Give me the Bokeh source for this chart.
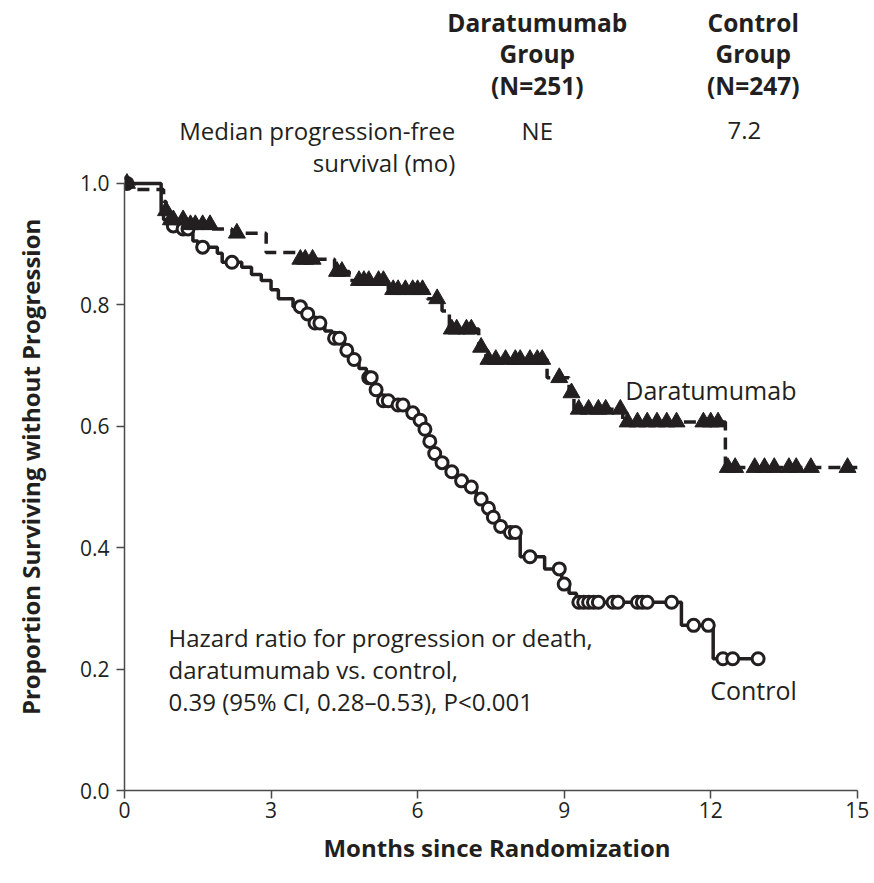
import numpy as np
from bokeh.plotting import figure
from bokeh.layouts import row
from bokeh.models import Range1d, FixedTicker, PrintfTickFormatter
from bokeh.core.properties import value
from bokeh.embed import file_html
from bokeh.resources import INLINE

# ---------------- data ----------------
# Control group (Kaplan-Meier steps: event time in months, survival after event)
ctrl_times = [0, 0.75, 0.8, 0.9, 1.1, 1.4, 1.5, 1.9, 2.0, 2.4, 2.6, 2.8, 3.0, 3.15, 3.45,
              3.7, 3.8, 4.1, 4.25, 4.5, 4.65, 4.8, 4.95, 5.1, 5.25, 5.5, 5.8, 6.0, 6.1,
              6.2, 6.3, 6.45, 6.6, 6.8, 7.0, 7.2, 7.35, 7.5, 7.65, 7.8, 8.1, 8.6, 8.95,
              9.1, 9.25, 11.4, 12.05]
ctrl_surv = [1.0, 0.955, 0.94, 0.93, 0.925, 0.905, 0.895, 0.885, 0.87, 0.862, 0.85, 0.84,
             0.825, 0.81, 0.797, 0.785, 0.77, 0.757, 0.745, 0.725, 0.71, 0.695, 0.68, 0.66,
             0.642, 0.635, 0.622, 0.61, 0.595, 0.575, 0.555, 0.54, 0.525, 0.51, 0.5, 0.48,
             0.465, 0.45, 0.435, 0.425, 0.385, 0.365, 0.34, 0.325, 0.31, 0.272, 0.217]
ctrl_end = 12.97
ctrl_censor = [0.05, 1.0, 1.2, 1.3, 1.6, 2.2, 3.6, 3.75, 3.9, 4.0, 4.3, 4.4, 4.55, 4.7,
               5.0, 5.05, 5.15, 5.3, 5.4, 5.6, 5.7, 5.9, 6.05, 6.15, 6.25, 6.35, 6.5, 6.7,
               6.9, 7.1, 7.3, 7.45, 7.55, 7.7, 7.9, 8.0, 8.3, 8.9, 9.0, 9.3, 9.4, 9.5, 9.6,
               9.7, 10.0, 10.1, 10.5, 10.6, 10.7, 11.2, 11.65, 11.95, 12.25, 12.45, 12.97]

# Daratumumab group
dara_times = [0, 0.2, 0.8, 0.85, 0.9, 1.3, 1.8, 2.2, 2.9, 3.5, 4.3, 4.6, 5.4, 6.2, 6.5,
              6.65, 7.25, 7.4, 8.65, 9.1, 9.2, 10.2, 12.3]
dara_surv = [1.0, 0.99, 0.97, 0.955, 0.94, 0.932, 0.925, 0.918, 0.886, 0.875, 0.855, 0.84,
             0.825, 0.81, 0.79, 0.76, 0.73, 0.71, 0.68, 0.655, 0.628, 0.607, 0.532]
dara_end = 15.0
dara_censor = [0.05, 0.85, 0.95, 1.0, 1.2, 1.35, 1.45, 1.6, 1.75, 2.3, 3.6, 3.7, 3.85, 4.35,
               4.45, 4.8, 4.9, 5.0, 5.2, 5.3, 5.5, 5.6, 5.75, 5.9, 6.0, 6.1, 6.4, 6.7, 6.8,
               7.0, 7.1, 7.3, 7.45, 7.6, 7.8, 8.0, 8.1, 8.3, 8.45, 8.55, 8.9, 9.15, 9.3,
               9.5, 9.7, 9.85, 10.15, 10.3, 10.5, 10.7, 10.9, 11.1, 11.3, 11.85, 12.0,
               12.15, 12.35, 12.5, 12.9, 13.1, 13.3, 13.6, 13.75, 14.05, 14.8]

x_ticks = [0, 3, 6, 9, 12, 15]
y_ticks = [0.0, 0.2, 0.4, 0.6, 0.8, 1.0]

header_groups = ["Daratumumab", "Control"]
header_n = ["(N=251)", "(N=247)"]
median_pfs = ["NE", "7.2"]
median_label = ["Median progression-free", "survival (mo)"]
hr_text = ["Hazard ratio for progression or death,",
           "daratumumab vs. control,",
           "0.39 (95% CI, 0.28\u20130.53), P<0.001"]
x_title = "Months since Randomization"
y_title = "Proportion Surviving without Progression"

FONT = "Open Sans"
INK = "#231f20"
AXC = "#4a4a4a"
H = 883
TITLE_W = 60
MAIN_W = 874 - TITLE_W


def surv_at(times, surv, t):
    idx = np.searchsorted(np.asarray(times), np.asarray(t), side="right") - 1
    return np.asarray(surv)[idx]


def txt(fig, x, y, s, align="center", bold=False, size="24px", angle=0.0):
    fig.text(x=[x], y=[y], text=[s], text_font=value(FONT), text_font_size=size,
             text_font_style="bold" if bold else "normal", text_color=INK,
             text_align=align, text_baseline="middle", angle=angle)


# ---------------- narrow strip holding the y-axis title ----------------
t = figure(width=TITLE_W, height=H, output_backend="svg", toolbar_location=None,
           x_range=Range1d(0, TITLE_W), y_range=Range1d(0, H),
           min_border_left=0, min_border_right=0, min_border_top=0, min_border_bottom=0)
t.axis.visible = False
t.grid.visible = False
t.outline_line_color = None
t.border_fill_color = "white"
# anchor (y measured upward) chosen so the rotated title is centred near 472 px from the top
txt(t, 30, H - 519, y_title, bold=True, size="24px", angle=np.pi / 2)

# ---------------- main plot (header table lives above y = 1.0) ----------------
p = figure(width=MAIN_W, height=H, output_backend="svg", toolbar_location=None,
           x_range=Range1d(0, 15.25), y_range=Range1d(0, 1.293),
           min_border_left=124 - TITLE_W, min_border_right=5, min_border_top=5,
           min_border_bottom=93)
p.outline_line_color = None
p.grid.visible = False
p.background_fill_color = "white"
p.border_fill_color = "white"

cx = list(ctrl_times) + [ctrl_end]
cy = list(ctrl_surv) + [ctrl_surv[-1]]
p.step(cx, cy, mode="after", line_color=INK, line_width=3.5)

dx = list(dara_times) + [dara_end]
dy = list(dara_surv) + [dara_surv[-1]]
p.step(dx, dy, mode="after", line_color=INK, line_width=3.5, line_dash="12 7")

p.scatter(ctrl_censor, surv_at(ctrl_times, ctrl_surv, ctrl_censor), marker="circle",
          size=12, line_color=INK, line_width=3, fill_color="white")
p.scatter(dara_censor, surv_at(dara_times, dara_surv, dara_censor), marker="triangle",
          size=17, line_color=INK, line_width=1, fill_color=INK)

for ax in (p.xaxis, p.yaxis):
    ax.axis_line_color = AXC
    ax.axis_line_width = 1.5
    ax.major_tick_line_color = AXC
    ax.major_tick_line_width = 1.5
    ax.major_tick_in = 0
    ax.major_tick_out = 8
    ax.minor_tick_line_color = None
    ax.major_label_text_font = FONT
    ax.major_label_text_font_size = "21px"
    ax.major_label_text_color = INK
    ax.axis_label_text_font = FONT
    ax.axis_label_text_font_style = "bold"
    ax.axis_label_text_color = INK

p.xaxis.ticker = FixedTicker(ticks=x_ticks)
p.xaxis.bounds = (0, 15)
p.xaxis.major_label_standoff = 3
p.xaxis.axis_label = x_title
p.xaxis.axis_label_text_font_size = "24px"
p.xaxis.axis_label_standoff = 10

p.yaxis.ticker = FixedTicker(ticks=y_ticks)
p.yaxis.formatter = PrintfTickFormatter(format="%.1f")
p.yaxis.bounds = (0, 1)
p.yaxis.major_label_standoff = 7

# header table
col_x = [8.45, 12.87]
for cxp, g, n in zip(col_x, header_groups, header_n):
    txt(p, cxp, 1.265, g, bold=True, size="24.5px")
    txt(p, cxp, 1.214, "Group", bold=True, size="24.5px")
    txt(p, cxp, 1.162, n, bold=True, size="24.5px")
txt(p, 6.77, 1.087, median_label[0], align="right")
txt(p, 6.77, 1.034, median_label[1], align="right")
txt(p, 8.45, 1.087, median_pfs[0])
txt(p, 12.69, 1.087, median_pfs[1])

# annotations
for i, line in enumerate(hr_text):
    txt(p, 0.9, 0.252 - i * 0.0527, line, align="left", size="24px")
txt(p, 10.25, 0.659, "Daratumumab", align="left", size="25px")
txt(p, 11.99, 0.165, "Control", align="left", size="25px")

layout = row(t, p, spacing=0)
open("out.html", "w").write(file_html(layout, INLINE))
